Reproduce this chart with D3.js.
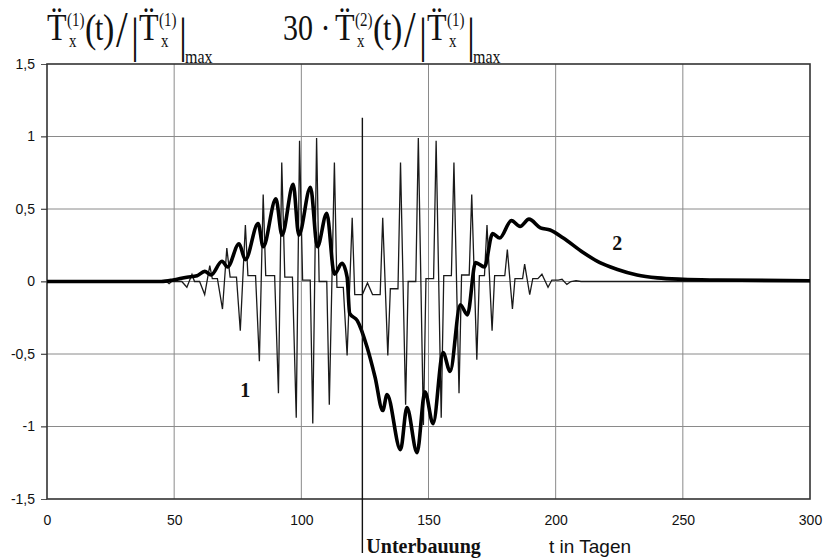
<!DOCTYPE html>
<html>
<head>
<meta charset="utf-8">
<script src="https://cdn.jsdelivr.net/npm/d3@7"></script>
<style>
	body { margin: 0; background: #fff; }
	svg { display: block; }
	.grid line { stroke: #8a8a8a; stroke-width: 1; }
	.tick-label { font-family: "Liberation Sans", Arial, sans-serif; font-size: 14px; fill: #111; }
	.math { font-family: "Liberation Serif", "Times New Roman", serif; fill: #111; }
</style>
</head>
<body>
<div id="chart"></div>
<script>
// axis ticks
var xTicks = [0, 50, 100, 150, 200, 250, 300];
var yTicks = [-1.5, -1, -0.5, 0, 0.5, 1, 1.5];
var yTickLabels = ["-1,5", "-1", "-0,5", "0", "0,5", "1", "1,5"];

// curve 1: thin, oscillating
var days1 = [0, 45, 47, 48, 49, 53, 55, 57, 58, 60, 62, 64, 65, 67, 69, 70.7, 72, 74.5, 76, 78, 79, 82,
	83.5, 85, 86, 89.5, 91, 92.3, 93.5, 96.5, 98, 99.3, 100.5, 103.5, 104.5, 106, 107, 110, 111, 113,
	114, 116.5, 118, 120, 121, 124, 126, 128, 131, 132, 134, 135, 138, 139, 141, 142, 145, 146, 148,
	149, 152, 153, 155, 156, 159, 160, 162, 163, 166, 167, 169, 170, 172, 173, 175, 176, 180, 181,
	183, 184, 187, 187.8, 189.8, 191, 193, 194.6, 197, 198.5, 201, 202.5, 204.4, 206, 208, 210, 300];
var values1 = [0, 0, 0, -0.015, 0, 0, -0.04, 0.05, 0, 0, -0.09, 0.11, 0.02, 0.02, -0.19, 0.23, 0.03, 0.03,
	-0.34, 0.39, 0.04, 0.04, -0.55, 0.6, 0.04, 0.04, -0.77, 0.82, 0.03, 0.03, -0.94, 0.97, 0.01, 0.01,
	-0.98, 0.99, 0, 0, -0.85, 0.82, -0.04, -0.04, -0.51, 0.44, -0.09, -0.09, -0.01, -0.09, -0.09, 0.44,
	-0.51, -0.05, -0.05, 0.82, -0.85, 0, 0, 0.99, -0.99, 0.02, 0.02, 0.97, -0.94, 0.04, 0.04, 0.82,
	-0.77, 0.045, 0.045, 0.6, -0.54, 0.04, 0.04, 0.39, -0.34, 0.04, 0.04, 0.22, -0.19, 0.02, 0.02,
	0.12, -0.09, 0.02, 0.02, 0.05, -0.04, 0.01, 0.01, 0.015, -0.02, 0, 0.005, 0, 0];

// curve 2: thick (30 x second component)
var days2 = [0, 45, 49.6, 55, 59, 62, 64.5, 68.8, 71, 75.5, 78, 83, 85, 90, 92.4, 96.8, 99, 103.6, 106.3,
	110, 113, 116, 118, 119, 122, 125.8, 129, 132, 133.7, 139, 141.5, 145.5, 148.6, 151.8, 155.7, 158.5,
	162.5, 165.3, 168.5, 172, 175.2, 178, 182.6, 186, 189.5, 194, 197.8, 203, 210.8, 217.4, 224, 232,
	240, 250, 263.5, 300];
var values2 = [0, 0, 0.01, 0.03, 0.04, 0.07, 0.045, 0.14, 0.1, 0.26, 0.15, 0.4, 0.24, 0.57, 0.32, 0.67,
	0.32, 0.65, 0.24, 0.47, 0.05, 0.125, 0.03, -0.22, -0.27, -0.45, -0.66, -0.89, -0.78, -1.16, -0.87,
	-1.18, -0.76, -0.98, -0.49, -0.62, -0.16, -0.23, 0.13, 0.1, 0.33, 0.3, 0.42, 0.38, 0.43, 0.37, 0.355,
	0.3, 0.2, 0.13, 0.085, 0.045, 0.025, 0.015, 0.01, 0.005];

// curve labels and the "Unterbauung" marker
var curveNames = ["1", "2"];
var curveNameDays = [77.9, 224.2];
var curveNameValues = [-0.75, 0.265];
var markerDay = 124;
var markerTop = 1.13;

var width = 824;
var height = 558;

var xScale = d3.scaleLinear().domain([0, 300]).range([47, 810]);
var yScale = d3.scaleLinear().domain([-1.5, 1.5]).range([499, 64]);

var svg = d3.select("#chart").append("svg")
	.attr("width", width)
	.attr("height", height);

/* grid */
var grid = svg.append("g").attr("class", "grid");
grid.selectAll(".vx")
	.data(xTicks.slice(1, -1)).enter()
	.append("line")
	.attr("x1", d => xScale(d)).attr("x2", d => xScale(d))
	.attr("y1", yScale(1.5)).attr("y2", yScale(-1.5));
grid.selectAll(".hy")
	.data(yTicks.slice(1, -1)).enter()
	.append("line")
	.attr("x1", xScale(0) - 6).attr("x2", xScale(300))
	.attr("y1", d => yScale(d)).attr("y2", d => yScale(d));

/* axes */
var yAxis = d3.axisLeft(yScale)
	.tickValues(yTicks)
	.tickSize(6)
	.tickPadding(6)
	.tickFormat((d, i) => yTickLabels[i]);
var gy = svg.append("g")
	.attr("transform", `translate(${xScale(0)}, 0)`)
	.call(yAxis);
gy.select(".domain").remove();
gy.selectAll("line").attr("stroke", "#555");
gy.selectAll("text").attr("class", "tick-label");

var xAxis = d3.axisBottom(xScale)
	.tickValues(xTicks)
	.tickSize(0)
	.tickPadding(16);
var gx = svg.append("g")
	.attr("transform", `translate(0, ${yScale(-1.5)})`)
	.call(xAxis);
gx.select(".domain").remove();
gx.selectAll("text").attr("class", "tick-label");

/* frame */
svg.append("rect")
	.attr("x", xScale(0)).attr("y", yScale(1.5))
	.attr("width", xScale(300) - xScale(0))
	.attr("height", yScale(-1.5) - yScale(1.5))
	.attr("fill", "none")
	.attr("stroke", "#333")
	.attr("stroke-width", 1.6);

/* lines */
var line1 = d3.line()
	.x((d, i) => xScale(days1[i]))
	.y(d => yScale(d));
svg.append("path")
	.attr("d", line1(values1))
	.attr("fill", "none")
	.attr("stroke", "#1a1a1a")
	.attr("stroke-width", 1.3)
	.attr("stroke-linejoin", "miter");

var line2 = d3.line()
	.x((d, i) => xScale(days2[i]))
	.y(d => yScale(d))
	.curve(d3.curveMonotoneX);
svg.append("path")
	.attr("d", line2(values2))
	.attr("fill", "none")
	.attr("stroke", "#000")
	.attr("stroke-width", 3.6)
	.attr("stroke-linejoin", "round");

/* Unterbauung marker */
svg.append("line")
	.attr("x1", xScale(markerDay)).attr("x2", xScale(markerDay))
	.attr("y1", yScale(markerTop)).attr("y2", 553)
	.attr("stroke", "#111")
	.attr("stroke-width", 1.4);

svg.append("text")
	.attr("x", xScale(markerDay) + 4).attr("y", 553)
	.attr("class", "math")
	.style("font-size", "20px").style("font-weight", "bold")
	.text("Unterbauung");

svg.append("text")
	.attr("x", 549).attr("y", 553)
	.style("font-family", "'Liberation Sans Narrow', 'Liberation Sans', Arial, sans-serif")
	.style("font-size", "19px")
	.attr("fill", "#111")
	.text("t in Tagen");

svg.selectAll(".cname")
	.data(curveNames).enter()
	.append("text")
	.attr("class", "math")
	.attr("x", (d, i) => xScale(curveNameDays[i]))
	.attr("y", (d, i) => yScale(curveNameValues[i]))
	.attr("text-anchor", "middle")
	.attr("dy", "0.35em")
	.style("font-size", "20px").style("font-weight", "bold")
	.text(d => d);

/* titles: one text per formula, stretched a bit vertically like the scan */
var Tdd = "T\u0308";

function formula(x0, lead, sup) {
	var t = svg.append("text")
		.attr("class", "math")
		.attr("transform", `translate(${x0}, 40) scale(1, 1.2)`);
	var off = 0;
	var parts = [];
	if (lead) {
		parts.push([0, 0, 30, lead]);
		off = 52;
	}
	parts.push(
		[off + 0, 0, 32, Tdd],
		[off + 20, -12, 15, "(" + sup + ")"],
		[off + 22, 6, 15, "x"],
		[off + 38, 2, 34, "("],
		[off + 48, 0, 30, "t"],
		[off + 56, 2, 34, ")"],
		[off + 69, 5, 42, "/"],
		[off + 84, 10, 40, "|"],
		[off + 92, 0, 32, Tdd],
		[off + 112, -12, 15, "(1)"],
		[off + 114, 6, 15, "x"],
		[off + 132, 10, 40, "|"],
		[off + 138, 19, 16, "max"]
	);
	t.selectAll("tspan")
		.data(parts).enter()
		.append("tspan")
		.attr("x", d => d[0])
		.attr("y", d => d[1])
		.style("font-size", d => d[2] + "px")
		.text(d => d[3]);
}
formula(47, null, "1");
formula(283, "30 \u00b7", "2");
</script>
</body>
</html>
